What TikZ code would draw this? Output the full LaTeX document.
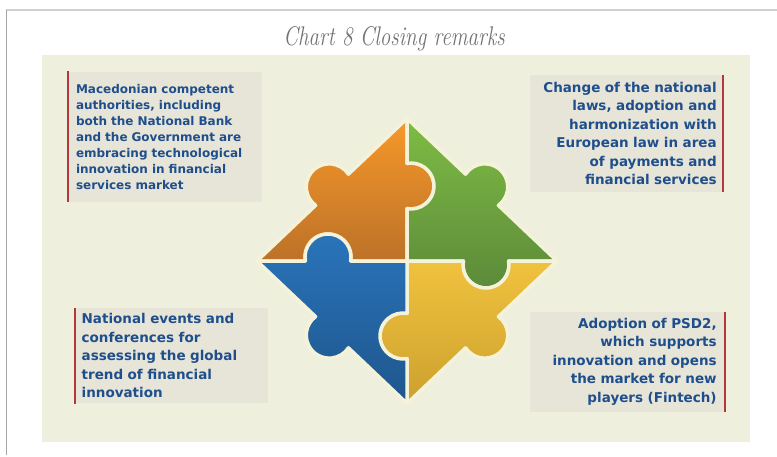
\documentclass[tikz,border=0pt]{standalone}
\usepackage{fontspec}
\usepackage{graphicx}
\newfontfamily\remarkfont{DejaVu Sans}

\definecolor{paper}{RGB}{239,239,221}
\definecolor{boxfill}{RGB}{230,229,216}
\definecolor{seam}{RGB}{245,242,218}
\definecolor{ink}{RGB}{31,78,140}
\definecolor{barred}{RGB}{178,56,62}
\definecolor{orangeT}{RGB}{247,152,42}
\definecolor{orangeB}{RGB}{188,114,40}
\definecolor{greenT}{RGB}{126,188,68}
\definecolor{greenB}{RGB}{92,138,58}
\definecolor{blueT}{RGB}{42,116,186}
\definecolor{blueB}{RGB}{30,86,140}
\definecolor{yellowT}{RGB}{241,194,62}
\definecolor{yellowB}{RGB}{204,160,46}

\tikzset{
  remark/.style={fill=boxfill, text=ink, inner ysep=0pt,
    font=\remarkfont\bfseries\fontsize{13.5}{18.5}\selectfont},
  sidebar/.style={draw=barred, line width=2pt},
  piece/.style={draw=seam, line width=3.5pt, line join=round},
}

\begin{document}
\begin{tikzpicture}[x=1pt, y=1pt]
  \useasboundingbox (0,0) rectangle (777,456);
  \fill[white] (0,0) rectangle (777,456);
  % page frame and panel
  \draw[black!18, line width=2pt] (6,446) -- (777,446);
  \draw[black!35, line width=0.8pt] (6.5,446) -- (6.5,1);
  \fill[paper] (42,14) rectangle (750,401);

  \node[font=\itshape\fontsize{27}{27}\selectfont, text=black!55, anchor=base]
    (title) at (394,410) {\scalebox{0.78}[1]{Chart 8 Closing remarks}};

  % the four remarks
  \node[remark, text width=177.7pt, inner xsep=8pt, minimum height=130pt, align=left,
    font=\remarkfont\bfseries\fontsize{12}{16}\selectfont] (nw) at (164.85,319.3)
    {Macedonian competent\\ authorities, including\\ both the National Bank\\
     and the Government are\\ embracing technological\\ innovation in financial\\
     services market};
  \node[remark, text width=180.7pt, inner xsep=6pt, minimum height=116.7pt, align=right]
    (ne) at (626.35,322.65)
    {Change of the national\\ laws, adoption and\\ harmonization with\\
     European law in area\\ of payments and\\ financial services};
  \node[remark, text width=180pt, inner xsep=6.65pt, minimum height=95pt, align=left]
    (sw) at (171.65,100.2)
    {National events and\\ conferences for\\ assessing the global\\
     trend of financial\\ innovation};
  \node[remark, text width=179pt, inner xsep=7.65pt, minimum height=100pt, align=right]
    (se) at (627.15,94.3)
    {Adoption of PSD2,\\ which supports\\ innovation and opens\\
     the market for new\\ players (Fintech)};

  \draw[sidebar] (nw.north west) -- (nw.south west);
  \draw[sidebar] (ne.north east) -- (ne.south east);
  \draw[sidebar] (sw.north west) -- (sw.south west);
  \draw[sidebar] (se.north east) -- (se.south east);

  % puzzle, one piece per quarter
  \begin{scope}[shift={(407,195)}]
    \shadedraw[piece, top color=orangeT, bottom color=orangeB]
      (0,0) -- (-56.35,0) arc[start angle=350, end angle=550, radius=23pt]
      -- (-150,0) -- (-91.42,55.65) arc[start angle=233.5, end angle=33.5, radius=23pt]
      -- (0,142.5) -- (0,97.65) arc[start angle=460, end angle=260, radius=23pt]
      -- cycle;
    \shadedraw[piece, top color=greenT, bottom color=greenB]
      (0,0) -- (56.35,0) arc[start angle=170, end angle=370, radius=23pt]
      -- (150,0) -- (91.42,55.65) arc[start angle=306.5, end angle=506.5, radius=23pt]
      -- (0,142.5) -- (0,97.65) arc[start angle=460, end angle=260, radius=23pt]
      -- cycle;
    \shadedraw[piece, top color=yellowT, bottom color=yellowB]
      (0,0) -- (0,-52.35) arc[start angle=440, end angle=640, radius=23pt]
      -- (0,-142.5) -- (58.58,-86.85) arc[start angle=213.5, end angle=413.5, radius=23pt]
      -- (150,0) -- (101.65,0) arc[start angle=370, end angle=170, radius=23pt]
      -- cycle;
    \shadedraw[piece, top color=blueT, bottom color=blueB]
      (0,0) -- (-56.35,0) arc[start angle=350, end angle=550, radius=23pt]
      -- (-150,0) -- (-91.42,-55.65) arc[start angle=126.5, end angle=326.5, radius=23pt]
      -- (0,-142.5) -- (0,-97.65) arc[start angle=280, end angle=80, radius=23pt]
      -- cycle;
  \end{scope}
\end{tikzpicture}
\end{document}
